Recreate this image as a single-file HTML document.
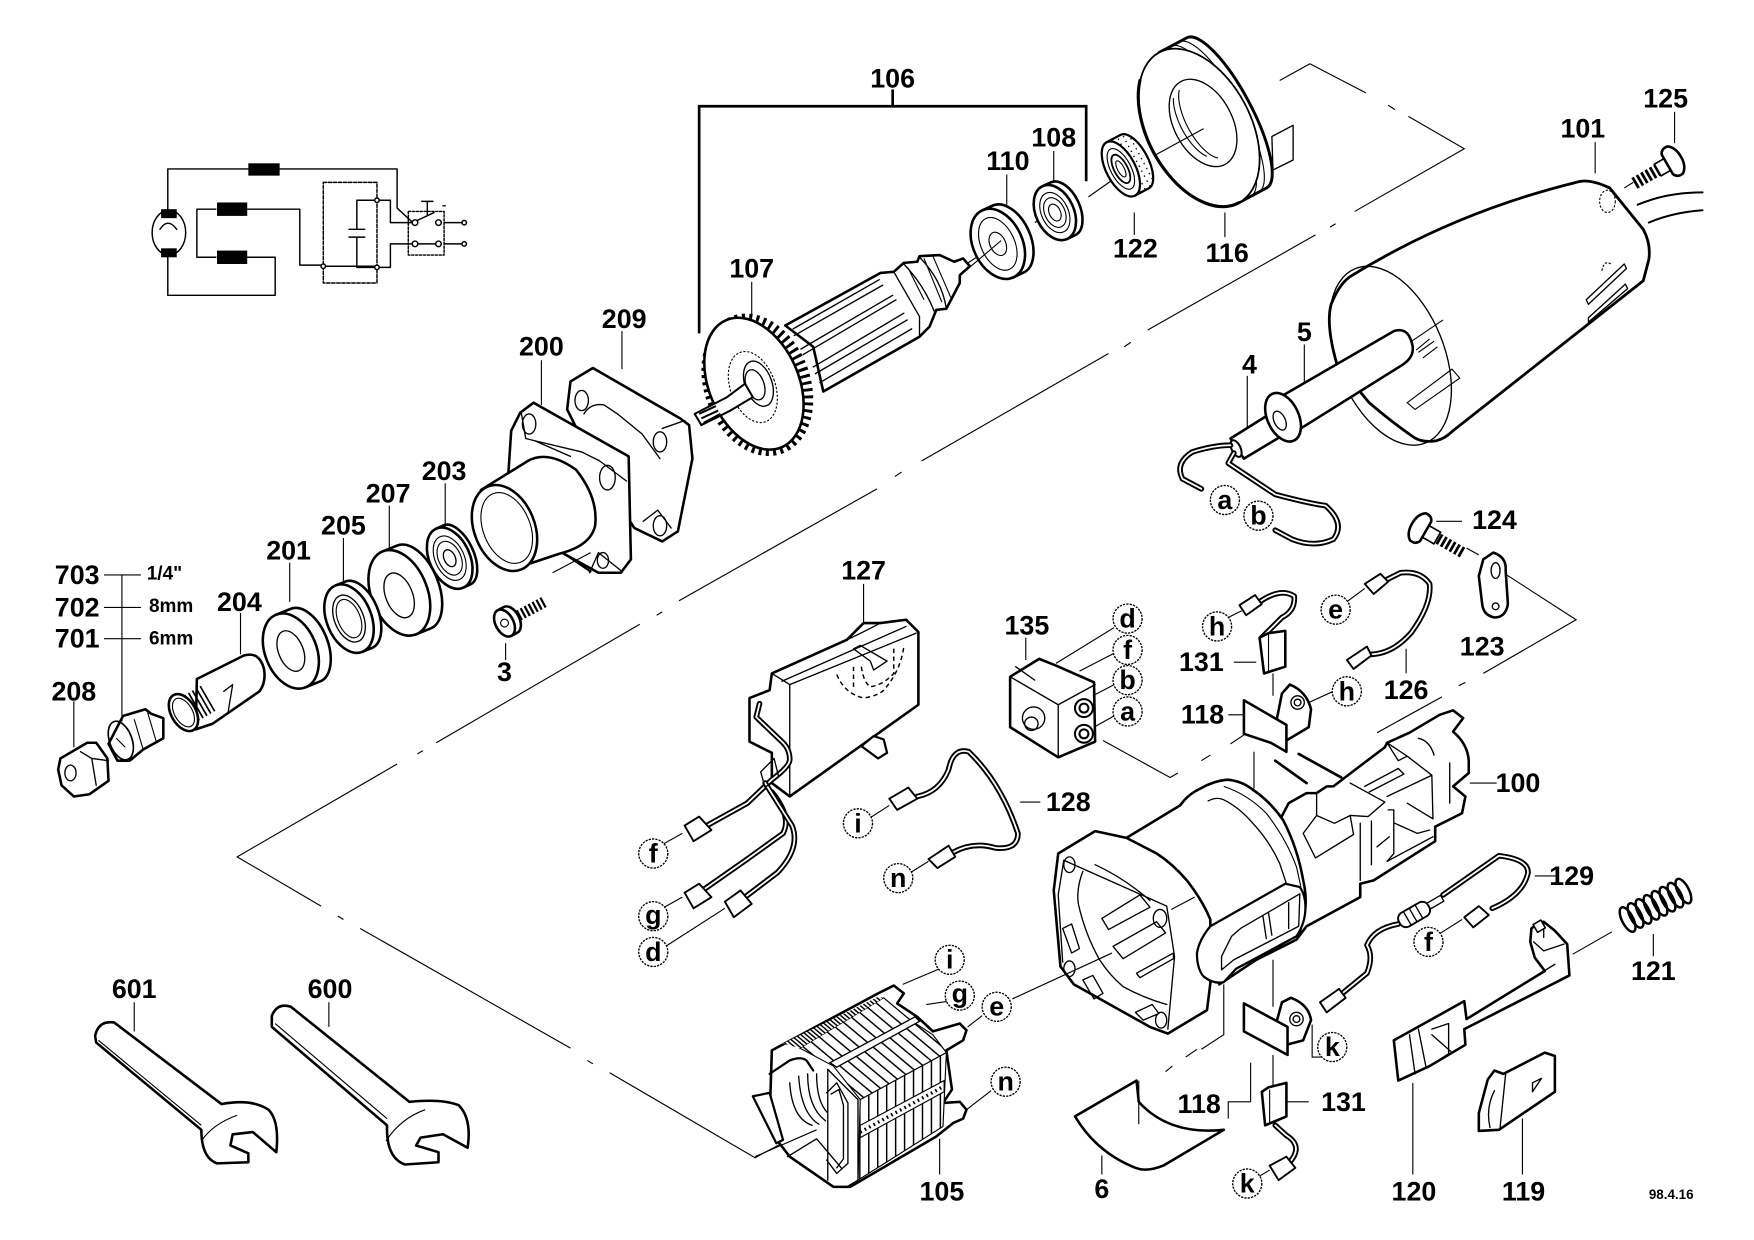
<!DOCTYPE html>
<html><head><meta charset="utf-8"><title>Parts diagram</title>
<style>
html,body{margin:0;padding:0;background:#fff;width:1754px;height:1240px;overflow:hidden}
svg{display:block}
.o{fill:#fff;stroke:#000;stroke-width:2.3;stroke-linejoin:round;stroke-linecap:round}
.m{fill:none;stroke:#000;stroke-width:1.8;stroke-linejoin:round;stroke-linecap:round}
.t{fill:none;stroke:#000;stroke-width:1}
.h{fill:none;stroke:#000;stroke-width:1.2;stroke-linejoin:round;stroke-linecap:round}
.w{fill:none;stroke:#000;stroke-width:5;stroke-linecap:round;stroke-linejoin:round}
.wi{fill:none;stroke:#fff;stroke-width:1.6;stroke-linecap:round;stroke-linejoin:round}
.d{fill:none;stroke:#000;stroke-width:1;stroke-dasharray:2 1.5}
text{font-family:"Liberation Sans",sans-serif;fill:#000;text-anchor:middle}
.l{font-size:24px;font-weight:bold}
.s{font-size:17px;font-weight:bold}
.c{fill:#fff;stroke:#000;stroke-width:1.2;stroke-dasharray:2 1}
.cl{font-size:24px;font-weight:bold}
.k{fill:#000;stroke:none}
</style></head><body>
<svg xmlns="http://www.w3.org/2000/svg" width="1754" height="1240" viewBox="0 0 1568 1108.5">
<defs>
<pattern id="fv" width="8" height="8" patternUnits="userSpaceOnUse"><rect width="8" height="8" fill="#fff"/><rect width="1.3" height="8" fill="#000"/></pattern>
<pattern id="ft" width="8" height="8" patternUnits="userSpaceOnUse" patternTransform="rotate(-50)"><rect width="8" height="8" fill="#fff"/><rect width="1.3" height="8" fill="#000"/></pattern>
<pattern id="fd" width="3" height="3" patternUnits="userSpaceOnUse" patternTransform="rotate(-50)"><rect width="3" height="3" fill="#fff"/><rect width="1.3" height="3" fill="#000"/></pattern>
<pattern id="dots" width="5" height="5" patternUnits="userSpaceOnUse"><rect width="5" height="5" fill="#fff"/><rect width="1.2" height="1.2" fill="#000"/></pattern>
</defs>

<!-- long dashed assembly lines -->
<g class="t">
<path d="M1144,72L1171,57L1221,83M1241,94L1247,98M1259,104L1309,133L1211,189M1194,200L1189,203M1176,210L1026,295M1011,306L1005,310M991,316L824,412M806,422L800,426M784,437L607,537M592,547L587,550M572,558L390,664M378,671L373,674M355,683L212,766L287,810M302,819L307,822M322,830L510,937M525,948L530,951M545,959L675,1035L725,1008"/>
<path d="M986,662L1046,695L1053,691M1074,680L1082,675M1100,665L1112,657M1161,674L1199,695M1231,655L1289,623M1304,613L1310,610M1326,602L1409,554L1333,505"/>
</g>

<!-- circuit -->
<g class="m" style="stroke-width:1.3">
<path d="M150,187V151H355V186L369,199"/>
<path d="M176,187V230H193M176,187H193M221,187H268V237H289M221,230H246V264H150V229"/>
<path d="M289,163H337V253H289Z" stroke-dasharray="3 1.5"/>
<path d="M319,205V179H337M319,212V239H337M312,205H326M312,212H326M289,238H337"/>
<path d="M337,179H349V199H369M337,239H349V218H369"/>
<path d="M365,189H397V228H365Z" stroke-dasharray="2 1.5"/>
<path d="M371,198L388,190M382,180V193M377,180H387M371,218H392M397,199H414M397,218H414M396,184h2"/>
<ellipse cx="151" cy="208" rx="15" ry="20"/>
<path d="M143,205Q150,194 158,205"/>
<circle cx="289" cy="238" r="2" fill="#fff"/><circle cx="337" cy="179" r="2" fill="#fff"/><circle cx="337" cy="239" r="2" fill="#fff"/>
<circle cx="371" cy="199" r="2.5" fill="#fff"/><circle cx="392" cy="199" r="2.5" fill="#fff"/><circle cx="371" cy="218" r="2.5" fill="#fff"/><circle cx="392" cy="218" r="2.5" fill="#fff"/>
<circle cx="415" cy="199" r="2" fill="#fff"/><circle cx="415" cy="218" r="2" fill="#fff"/>
</g>
<g class="k"><rect x="222" y="146" width="28" height="11"/><rect x="194" y="181" width="27" height="12"/><rect x="194" y="224" width="27" height="12"/><rect x="144" y="187" width="14" height="8"/><rect x="144" y="222" width="14" height="8"/></g>

<!-- bracket 106 -->
<path d="M625,298V95H971V162M798,80V95" fill="none" stroke="#000" stroke-width="2.4"/>
<!-- axis lines top -->
<g class="t"><path d="M861,238L892,217M925,199L945,186M973,176L1000,157"/></g>

<!-- 116 -->
<g transform="translate(1072,114) rotate(-28)">
<path class="o" d="M0,-76L28,-76A22,76 0 0 1 28,76L0,76Z" style="stroke-width:2.6"/>
<path class="t" d="M6,-76A22,76 0 0 1 6,76M12,-76A22,76 0 0 1 12,76M20,-76A22,76 0 0 1 20,76"/>
<ellipse class="o" rx="46" ry="76" style="stroke-width:1.6"/>
<path class="m" d="M-27,-62A46,76 0 0 0 0,76" style="stroke-width:2.8"/>
<ellipse class="h" cx="5" cy="-2" rx="26" ry="42"/>
<path class="t" d="M-8,-34A16,36 0 0 0 -6,26M0,-38A16,38 0 0 0 2,32"/>
</g>
<path class="h" d="M1137,122L1156,112V143L1138,152Z" style="fill:#fff"/>
<path class="t" d="M1032,139L1076,115"/>
<!-- 122 -->
<g transform="translate(1002,151) rotate(-28)">
<path d="M0,-27L14,-27A12,27 0 0 1 14,27L0,27Z" fill="url(#dots)" stroke="#000" stroke-width="2"/>
<ellipse rx="13" ry="27" fill="#fff" stroke="#000" stroke-width="2"/>
<ellipse class="t" rx="9" ry="20"/><ellipse class="m" rx="6" ry="14" style="stroke-width:1.6"/><ellipse class="t" rx="3" ry="8"/>
</g>
<!-- 108 -->
<g transform="translate(943,190) rotate(-25)">
<path class="o" d="M0,-26L8,-26A15,26 0 0 1 8,26L0,26Z"/>
<ellipse class="o" rx="17" ry="26"/>
<ellipse class="t" rx="12" ry="19"/><ellipse class="t" rx="9" ry="14"/><ellipse class="t" rx="5" ry="8"/>
</g>
<!-- 110 -->
<g transform="translate(892,218) rotate(-25)">
<path class="o" d="M0,-33L10,-33A20,33 0 0 1 10,33L0,33Z"/>
<ellipse class="o" rx="22" ry="33"/>
<ellipse class="t" rx="15" ry="25"/><ellipse class="t" rx="7" ry="11"/>
</g>
<path class="t" d="M868,238L895,215"/>

<!-- armature 107 -->
<g>
<path class="o" d="M702,291L787,244L799,243L808,235L820,234L822,229L840,228L853,234L861,231L867,238L858,246L858,253L846,276L837,277L831,292L822,301L736,350L727,310Z"/>
<path class="h" d="M799,243L822,283V301M808,236Q826,255 835,278M822,230Q842,250 846,276"/>
<path class="t" d="M826,231L842,270M834,229L850,266M812,240L826,268"/>
<path class="h" d="M709,294L786,250M710,300L789,255M716,312L798,264M718,317L801,268M727,328L808,280M729,334L811,286M733,342L815,294"/>
<ellipse cx="677" cy="344" rx="43" ry="61" transform="rotate(-20 677 344)" fill="none" stroke="#000" stroke-width="9" stroke-dasharray="2.6 3.6"/>
<ellipse class="o" cx="674" cy="343" rx="40" ry="62" transform="rotate(-24 674 343)"/>
<ellipse class="d" cx="673" cy="346" rx="20" ry="33" transform="rotate(-20 673 346)"/>
<ellipse class="h" cx="678" cy="343" rx="12" ry="21" transform="rotate(-20 678 343)"/>
<ellipse class="h" cx="675" cy="344" rx="8" ry="14" transform="rotate(-20 675 344)"/>
<path class="o" d="M621,370L650,355L666,343L673,355L653,367L627,380Z" style="stroke-width:1.8"/>
<path d="M625,370L640,363M627,374L642,367M629,378L644,370" stroke="#000" stroke-width="1.8"/>
</g>

<!-- 209 -->
<path class="o" d="M530,329L510,341L507,366L534,420L567,472L592,484L606,475L619,410L616,380L608,374Z"/>
<path class="h" d="M522,370Q528,360 540,362L552,370L574,388L590,410M592,383L612,376M575,466L588,456L600,472"/>
<ellipse class="h" cx="520" cy="358" rx="6" ry="9"/><ellipse class="h" cx="590" cy="395" rx="6" ry="9"/><ellipse class="h" cx="590" cy="470" rx="6" ry="9"/>
<!-- 200 -->
<path class="o" d="M477,360L465,369L457,385L453,445L495,490L535,512L555,512L564,500L562,408Z"/>
<path class="h" d="M466,369L470,392L478,394L520,404L536,412L560,430M527,512L535,494L555,510M478,394L510,408"/>
<ellipse class="h" cx="473" cy="379" rx="6" ry="9"/><ellipse class="h" cx="543" cy="427" rx="7" ry="11"/><ellipse class="h" cx="539" cy="501" rx="5" ry="7"/>
<path class="m" d="M500,492L528,511"/>
<!-- neck -->
<path class="o" d="M430,438L472,412Q490,402 515,420Q535,445 532,470Q528,488 500,495L455,510Z"/>
<ellipse class="o" cx="451" cy="472" rx="27" ry="40" transform="rotate(-22 451 472)"/>
<ellipse class="t" cx="453" cy="472" rx="21" ry="33" transform="rotate(-22 453 472)"/>
<!-- screw 3 -->
<path class="t" d="M494,512L528,494"/>
<g transform="translate(451,557) rotate(-28)">
<path d="M14,0H42" stroke="#000" stroke-width="10" stroke-dasharray="2 2" fill="none"/>
<path class="o" d="M0,-13H6A8,13 0 0 1 6,13H0Z"/>
<ellipse class="o" rx="8" ry="13"/><circle class="t" r="3.5"/>
</g>
<!-- 203 -->
<g transform="translate(402,499) rotate(-25)">
<path class="o" d="M0,-29L7,-29A15,29 0 0 1 7,29L0,29Z"/>
<ellipse class="o" rx="18" ry="29"/>
<ellipse class="t" rx="13" ry="21"/><ellipse class="t" rx="10" ry="16"/><ellipse class="h" rx="5" ry="8"/>
</g>
<!-- 207 -->
<g transform="translate(357,530) rotate(-22)">
<path class="o" d="M0,-40L14,-40A22,40 0 0 1 14,40L0,40Z"/>
<ellipse class="o" rx="25" ry="40"/><ellipse class="h" cx="-1" cy="2" rx="12" ry="21"/>
</g>
<!-- 205 -->
<g transform="translate(312,553) rotate(-22)">
<path class="o" d="M0,-32L9,-32A18,32 0 0 1 9,32L0,32Z"/>
<ellipse class="o" rx="20" ry="32"/><ellipse class="h" rx="13" ry="22"/><ellipse class="t" rx="10" ry="18"/>
</g>
<!-- 201 -->
<g transform="translate(260,582) rotate(-22)">
<path class="o" d="M0,-35L14,-35A20,35 0 0 1 14,35L0,35Z"/>
<ellipse class="o" rx="23" ry="35"/><ellipse class="h" rx="11" ry="19"/>
</g>
<!-- 204 -->
<path class="o" d="M176,607L218,586Q232,582 236,598Q238,610 232,618L190,647L175,652Z"/>
<path class="h" d="M200,618L208,612L204,636"/>
<g transform="translate(164,637) rotate(-30)">
<path d="M4,0H28" stroke="#000" stroke-width="26" stroke-dasharray="1.5 2.5" fill="none"/>
<ellipse class="o" rx="11" ry="18"/><ellipse class="t" rx="8" ry="14"/>
</g>
<!-- collet -->
<path class="o" d="M110,640L130,634L135,638L146,642L146,660L128,670L116,680L105,680L97,665Z"/>
<ellipse class="m" cx="108" cy="662" rx="10" ry="18" transform="rotate(-20 108 662)" style="stroke-width:1.5"/>
<path class="t" d="M120,643L128,670M132,637L140,664M104,660L112,668"/>
<!-- nut 208 -->
<path class="o" d="M54,678L78,664L86,664L96,678L97,698L80,710L66,712L55,702L52,688Z"/>
<path class="h" d="M72,672L82,678L86,702M82,678L97,680"/>
<ellipse class="h" cx="63" cy="691" rx="5" ry="7"/>

<!-- tree lines -->
<g class="t">
<path d="M93,514H126M93,543H126M93,571H126M109,514V645M66,627V668M215,548V585M259,503V538M307,481V520M348,452V490M398,432V472M484,322V362M556,296V330M672,252V281M900,156V183M942,135V163M1014,190V210M1095,190V212M1426,127V155M1497,100V128M1166,308V342M1115,336V385M452,575V590M772,522V558M917,570V590"/>
<path d="M120,896V922M294,896V918M1257,580V602M1263,968V1050M1361,1000V1050M1478,835V855M840,1018V1050M985,1033V1050M1372,783H1392M1314,700H1338M912,717H930M1284,466H1307M1123,592H1103M1111,639H1098M1118,985H1098V1000M1151,985H1170M1118,950V985"/>
</g>

<!-- housing 101 -->
<path class="o" d="M1209,246Q1300,190 1409,163Q1420,159 1439,168L1469,205Q1476,218 1474,232L1469,251L1299,385Q1292,392 1284,394Q1272,396 1264,391Q1245,378 1224,360L1195,325Q1185,290 1190,272Q1198,252 1209,246Z" style="stroke-width:2.5"/>
<ellipse class="h" cx="1243" cy="318" rx="48" ry="84" transform="rotate(-22 1243 318)"/>
<path class="t" d="M1266,313L1278,303M1272,320L1285,310M1258,360L1298,330L1305,338L1265,366Z"/>
<path class="h" d="M1418,268L1452,236L1454,240L1420,272ZM1420,284L1453,254L1455,258L1420,288Z"/>
<ellipse class="d" cx="1437" cy="180" rx="7" ry="10"/><path class="d" d="M1432,242Q1434,232 1440,236"/>
<!-- cable -->
<path d="M1464,183Q1490,172 1522,172M1474,199Q1495,190 1522,188" class="m"/>
<!-- screw 125 -->
<g transform="translate(1494,145) rotate(-30)">
<path d="M-38,0H-8" stroke="#000" stroke-width="11" stroke-dasharray="2.5 2" fill="none"/>
<path class="o" d="M-14,-6H0V6H-14Z" style="stroke-width:1.5"/>
<path class="o" d="M-4,-10Q-2,-15 4,-14Q10,-10 10,0Q10,10 4,14Q-2,15 -4,10Z"/>
</g>
<path class="t" d="M1452,168L1460,163"/>
<!-- tube 4/5 -->
<path class="o" d="M1146,354L1246,296Q1258,292 1262,306Q1266,318 1254,326L1158,386Z"/>
<path class="t" d="M1262,305L1290,286M1268,315L1282,305"/>
<path class="o" d="M1100,392L1140,367L1152,386L1112,410Z"/>
<ellipse class="o" cx="1147" cy="373" rx="14" ry="23" transform="rotate(-25 1147 373)"/>
<ellipse class="h" cx="1144" cy="376" rx="5" ry="9" transform="rotate(-25 1144 376)"/>
<ellipse class="m" cx="1105" cy="401" rx="4" ry="8" transform="rotate(-25 1105 401)" style="fill:#fff"/>
<!-- cords -->
<path class="w" d="M1100,398Q1085,398 1066,404Q1050,414 1057,428L1074,437"/>
<path class="wi" d="M1100,398Q1085,398 1066,404Q1050,414 1057,428L1074,437"/>
<path class="w" d="M1103,405L1098,414L1140,442Q1170,450 1185,452Q1203,468 1192,482Q1175,490 1155,482L1140,474"/>
<path class="wi" d="M1103,405L1098,414L1140,442Q1170,450 1185,452Q1203,468 1192,482Q1175,490 1155,482L1140,474"/>

<!-- 124 screw / 123 -->
<g transform="translate(1271,473) rotate(30)">
<path d="M8,0H44" stroke="#000" stroke-width="10" stroke-dasharray="2.5 2" fill="none"/>
<path class="o" d="M2,-6H16V6H2Z" style="stroke-width:1.5"/>
<path class="o" d="M4,-10Q2,-15 -4,-14Q-10,-10 -10,0Q-10,10 -4,14Q2,15 4,10Z"/>
</g>
<path class="o" d="M1326,500L1335,494Q1347,498 1346,510L1348,540Q1346,552 1336,552Q1326,550 1325,540L1322,515Z"/>
<ellipse class="h" cx="1337" cy="510" rx="4" ry="7"/><circle class="h" cx="1337" cy="542" r="3"/>
<path class="t" d="M1311,490L1322,496"/>
<!-- 126 wire -->
<path class="w" d="M1236,520L1252,512Q1270,510 1278,522Q1280,540 1262,565Q1245,585 1224,585"/>
<path class="wi" d="M1236,520L1252,512Q1270,510 1278,522Q1280,540 1262,565Q1245,585 1224,585"/>
<path class="o" d="M1220,522L1234,513L1241,520L1228,531Z" style="stroke-width:1.7"/>
<path class="o" d="M1204,590L1222,578L1226,586L1210,598Z" style="stroke-width:1.7"/>
<path class="t" d="M1204,538L1220,526"/>

<!-- 135 -->
<path class="o" d="M903,605L929,589L944,595L978,610L979,663L946,677L903,650Z"/>
<path class="h" d="M903,605L946,630L979,612M946,630V677M908,596L925,608"/>
<circle class="h" cx="924" cy="642" r="10"/><circle class="h" cx="922" cy="647" r="6"/>
<circle class="m" cx="969" cy="633" r="8"/><circle class="m" cx="969" cy="656" r="8"/><circle class="m" cx="969" cy="633" r="4"/><circle class="m" cx="969" cy="656" r="4"/>
<path class="t" d="M944,593L996,561M965,600L996,584M977,622L996,612M978,650L996,640"/>
<!-- h wire + 131 -->
<path class="w" d="M1126,538Q1145,525 1157,533Q1158,546 1146,552L1128,570"/>
<path class="wi" d="M1126,538Q1145,525 1157,533Q1158,546 1146,552L1128,570"/>
<path class="o" d="M1108,541L1122,532L1128,540L1114,550Z" style="stroke-width:1.7"/>
<path class="t" d="M1098,552L1110,546"/>
<path class="o" d="M1126,570L1134,566L1149,564V596L1130,602Z"/>
<path class="t" d="M1134,566V602M1138,602V622"/>
<!-- 118 upper -->
<path class="o" d="M1146,620L1153,612Q1168,618 1172,634L1170,650L1150,662L1140,650Z"/>
<circle class="h" cx="1160" cy="628" r="6"/><circle class="h" cx="1160" cy="628" r="3"/>
<path class="o" d="M1112,626L1150,648V672L1143,668L1136,664L1112,656Z"/>
<path class="t" d="M1170,628L1192,618"/>

<!-- body 100 rear -->
<path class="o" d="M1152,718L1168,709L1177,709L1186,703L1192,703L1205,693L1238,668L1240,664L1260,655L1287,639L1299,635L1308,642L1299,654Q1312,665 1313,680L1313,691L1299,703L1310,712L1307,727L1283,739L1283,752L1228,787L1216,790V802L1168,828L1159,840L1105,867L1100,840L1130,760Z"/>
<path class="h" d="M1207,700L1238,717L1223,730L1207,729L1193,736L1177,729V709M1177,729L1165,745L1176,767L1210,746L1207,729M1216,736V787"/>
<path class="h" d="M1240,712L1280,693L1281,732L1258,718M1296,682V718M1258,676L1280,693M1220,703L1250,687L1255,692L1224,708M1240,664L1250,680L1258,676L1240,664M1268,660Q1278,662 1282,675"/>
<path class="h" d="M1241,724H1246V763L1240,770L1281,748M1226,734V773M1231,757L1242,748M1247,736L1267,745L1278,742"/>
<path class="m" d="M1140,680L1168,700M1161,674L1199,695" style="stroke-width:2.4"/>
<path class="t" d="M1121,672V705"/>
<!-- cylinder & ring -->
<path class="o" d="M1007,749L1055,720Q1062,710 1073,705Q1085,698 1097,697Q1110,698 1120,706Q1135,716 1147,733Q1160,758 1165,787Q1168,800 1167,811L1162,834L1120,860L1090,880L1060,830Z"/>
<path class="h" d="M1080,716Q1088,712 1094,715Q1108,722 1120,736Q1135,752 1144,772L1150,790"/>
<path class="t" d="M1094,703Q1115,710 1132,727Q1150,750 1159,775L1163,793"/>
<!-- flange -->
<path class="o" d="M946,763L979,743L1007,749L1034,763Q1048,772 1061,787Q1075,805 1082,822L1082,879L1079,903L1044,924L1028,918L960,880L948,864L942,796Z"/>
<path class="h" d="M951,769L1043,810L1050,855L1044,920M951,769L946,800L950,860"/>
<path class="h" d="M979,773Q1005,785 1028,805M968,779Q962,795 964,808Q970,835 983,858Q992,872 1004,882Q1022,892 1043,898"/>
<ellipse class="h" cx="956" cy="773" rx="5" ry="7"/><ellipse class="h" cx="1037" cy="821" rx="6" ry="8"/><ellipse class="h" cx="956" cy="866" rx="5" ry="7"/><ellipse class="h" cx="1038" cy="912" rx="5" ry="7"/>
<path class="h" d="M985,821L1019,800L1028,811L991,831ZM995,846L1034,824L1042,834L1004,857ZM1016,870L1049,852V857L1019,874ZM950,830L958,826L965,848L958,852ZM968,876L977,872L986,888L978,893ZM1015,905L1030,898L1036,906L1022,912Z"/>
<path class="t" d="M905,893L994,852M1047,813L1068,802"/>
<!-- handle loop -->
<path class="o" d="M1162,793L1149,790L1082,828Q1072,840 1070,852Q1070,866 1076,873Q1085,880 1094,878L1105,866L1159,837Q1167,825 1167,811Q1167,800 1162,793Z" style="stroke-width:2"/>
<path class="h" d="M1109,830L1162,799L1161,828L1103,858L1092,867V855L1101,837ZM1129,819L1132,839M1134,816L1137,836M1152,807V830"/>
<path class="t" d="M1094,880V925L1074,938M1138,858V900"/>
<path class="t" d="M1060,945L1070,938M1042,958L1048,953"/>

<!-- 127 -->
<path class="o" d="M690,602L757,572L772,557L787,557L810,554L821,565V630L706,712L690,700V673L670,663V624L688,617Z"/>
<path class="h" d="M690,602L706,612L819,566M699,609L810,560M706,612V712M757,572Q770,566 787,557"/>
<path class="h" d="M763,580L769,577L793,591L781,599L778,591L763,580Z"/>
<path class="d" d="M748,603Q755,620 772,624Q785,622 790,617Q805,600 808,578M763,596V617M770,596Q772,610 778,614Q790,612 799,602V578" style="stroke-width:1.3;stroke-dasharray:4 3"/>
<path class="o" d="M770,667L781,658L790,661L793,673L785,678Z" style="stroke-width:2"/>
<!-- 127 wires -->
<path class="w" d="M632,738L668,718L690,697Q706,685 706,679Q706,670 700,664L676,641L679,629"/>
<path class="wi" d="M632,738L668,718L690,697Q706,685 706,679Q706,670 700,664L676,641L679,629"/>
<path class="w" d="M628,796L668,768L700,745Q708,730 690,708"/>
<path class="wi" d="M628,796L668,768L700,745Q708,730 690,708"/>
<path class="w" d="M666,802L695,780Q716,758 708,738L684,700"/>
<path class="wi" d="M666,802L695,780Q716,758 708,738L684,700"/>
<path class="h" d="M680,690L692,678L696,694L684,704Z"/>
<path class="o" d="M612,738L625,730L636,742L620,752Z" style="stroke-width:1.7"/>
<path class="o" d="M612,798L625,790L636,802L620,812Z" style="stroke-width:1.7"/>
<path class="o" d="M648,806L662,796L672,808L656,820Z" style="stroke-width:1.7"/>
<path class="t" d="M592,755L610,745M592,812L610,802M595,846L648,812"/>
<!-- 128 wire -->
<path class="w" d="M820,712Q840,708 848,688Q852,668 866,672Q895,700 910,745Q910,760 890,758Q870,752 852,762"/>
<path class="wi" d="M820,712Q840,708 848,688Q852,668 866,672Q895,700 910,745Q910,760 890,758Q870,752 852,762"/>
<path class="o" d="M795,714L812,704L820,714L802,724Z" style="stroke-width:1.7"/>
<path class="o" d="M830,768L848,756L854,766L838,776Z" style="stroke-width:1.7"/>
<path class="t" d="M778,731L795,720M814,780L830,770"/>

<!-- 129 -->
<path class="w" d="M1200,888L1222,870Q1228,855 1222,845Q1228,830 1250,826M1290,800L1340,765Q1366,768 1366,780Q1362,800 1334,812"/>
<path class="wi" d="M1200,888L1222,870Q1228,855 1222,845Q1228,830 1250,826M1290,800L1340,765Q1366,768 1366,780Q1362,800 1334,812"/>
<g transform="translate(1265,817) rotate(-30)"><rect class="o" x="-16" y="-7" width="30" height="14" rx="6" style="stroke-width:1.7"/><path d="M-8,-7V7M-2,-7V7M4,-7V7M14,-3H28V3H14Z" class="h"/></g>
<path class="o" d="M1180,896L1197,884L1203,892L1186,905Z" style="stroke-width:1.7"/>
<path class="o" d="M1309,820L1322,810L1331,818L1317,829Z" style="stroke-width:1.7"/>
<path class="t" d="M1288,834L1307,822"/>
<!-- spring 121 -->
<g transform="translate(1455,822) rotate(-27)" fill="none" stroke="#000" stroke-width="2.2">
<ellipse rx="5" ry="12"/><ellipse cx="8" rx="5" ry="12"/><ellipse cx="16" rx="5" ry="12"/><ellipse cx="24" rx="5" ry="12"/><ellipse cx="32" rx="5" ry="12"/><ellipse cx="40" rx="5" ry="12"/><ellipse cx="48" rx="5" ry="12"/><ellipse cx="56" rx="5" ry="12"/>
</g>
<path class="t" d="M1406,853L1441,833"/>
<!-- 120 -->
<path class="o" d="M1369,830L1374,826L1380,824L1390,832L1401,844L1403,872L1309,920L1310,934L1278,953L1250,966L1246,930L1309,895L1311,911L1381,868L1372,856L1368,842Z"/>
<path class="h" d="M1316,908L1390,862M1260,925L1265,960M1268,920L1275,955L1295,942L1295,915L1280,920M1280,925L1297,940M1371,842L1380,850L1398,844M1380,826V838"/>
<rect class="m" x="1372" y="824" width="8" height="8" transform="rotate(-30 1376 828)" style="stroke-width:1.4;fill:#fff"/>
<!-- 119 -->
<path class="o" d="M1381,941L1390,944V976L1340,1010L1322,1011L1322,995L1330,965L1336,957L1344,960Z"/>
<path class="h" d="M1346,960L1341,1008M1370,968L1378,964L1370,976ZM1336,975Q1328,990 1332,1008"/>
<!-- 6 -->
<path class="o" d="M961,998L1016,966L1018,985Q1045,1015 1094,1010L1040,1042Q1025,1048 1015,1044Q980,1030 961,998Z"/>
<path class="t" d="M1018,966V1005"/>
<!-- 118 lower -->
<path class="o" d="M1146,896L1154,892Q1170,898 1172,912L1165,930L1150,934L1140,918Z"/>
<circle class="h" cx="1159" cy="911" r="6"/><circle class="h" cx="1159" cy="911" r="3"/>
<path class="o" d="M1112,897L1151,918V943L1112,922Z"/>
<path class="t" d="M1173,916V945L1181,945M1138,943V972"/>
<!-- 131 lower -->
<path class="o" d="M1128,976L1134,972L1150,968V998L1131,1006Z"/>
<path class="t" d="M1135,974V1004"/>
<path class="w" d="M1140,1006L1150,1015Q1166,1025 1152,1040"/>
<path class="wi" d="M1140,1006L1150,1015Q1166,1025 1152,1040"/>
<path class="o" d="M1135,1042L1150,1034L1158,1044L1143,1055Z" style="stroke-width:1.7"/>
<path class="t" d="M1125,1052L1135,1046"/>

<!-- stator 105 -->
<path class="o" d="M690,939L785,888L799,881L808,888L802,897L820,909L834,922L858,915L864,921L861,930L846,939L851,974L843,986L858,985L864,992L861,1000L852,1004L837,1016L760,1061L745,1061L706,1034L696,1021L688,1001Z"/>
<path d="M790,892L814,912L834,925L846,941L769,983L745,953L715,937Z" fill="url(#ft)" stroke="#000" stroke-width="1"/>
<path d="M700,933L785,891L790,892L715,937Z" fill="url(#fd)"/>
<path d="M769,983L846,941L843,1007L767,1055Z" fill="url(#fv)" stroke="#000" stroke-width="1"/>
<path d="M742,950L818,909L822,913L748,954Z" fill="#fff" stroke="#000" stroke-width="1.2"/>
<path d="M769,1006L844,966V976L769,1017Z" fill="#fff" stroke="#000" stroke-width="1"/>
<path d="M769,1012L844,971" stroke="#000" stroke-width="3" stroke-dasharray="1.5 3" fill="none"/>
<path class="h" d="M740,956L767,983V1055M757,1061L767,1055"/>
<path class="h" d="M739,977L748,968L758,986V1040L748,1049L739,1037M743,978L750,974L754,988V1036L748,1044"/>
<path class="h" d="M706,968Q708,1000 726,1006M714,962Q716,995 732,1005M722,960Q722,990 738,1002M730,960Q730,985 740,995M740,956V1055"/>
<path class="m" d="M688,960L706,948Q716,944 721,948L727,957" style="stroke-width:2"/>
<path class="o" d="M673,980L688,977L700,1019L694,1022Z" style="stroke-width:2"/>
<path class="t" d="M675,1034L730,1010"/>
<path class="h" d="M704,1034L730,1018L752,1044"/>
<path class="t" d="M807,880L840,866M828,898L848,895M865,918L878,908M864,992L886,975"/>

<!-- wrenches -->
<path class="o" d="M85,926Q88,912 102,914L198,987Q225,982 240,992Q250,1002 247,1030L226,1012L208,1014L206,1024L222,1031V1039L194,1040Q180,1035 180,1010L86,932Z"/>
<path class="t" d="M88,930L180,1006M180,1020Q190,1005 212,997"/>
<path class="o" d="M243,908Q248,896 260,900L366,985Q395,982 410,988Q422,1000 418,1026L396,1014L376,1017L372,1024L392,1030V1039L362,1041Q345,1035 346,1006L243,918Z"/>
<path class="t" d="M246,915L346,1000M345,1020Q358,1000 380,992"/>

<!-- labels -->
<g class="l">
<text x="798" y="78">106</text><text x="1489" y="96">125</text><text x="1415" y="123">101</text>
<text x="901" y="152">110</text><text x="942" y="131">108</text><text x="1015" y="230">122</text><text x="1097" y="234">116</text>
<text x="672" y="248">107</text><text x="558" y="293">209</text><text x="484" y="318">200</text>
<text x="1166" y="305">5</text><text x="1117" y="334">4</text>
<text x="397" y="429">203</text><text x="347" y="449">207</text><text x="307" y="478">205</text><text x="258" y="500">201</text>
<text x="214" y="546">204</text><text x="69" y="522">703</text><text x="69" y="551">702</text><text x="69" y="579">701</text>
<text x="66" y="626">208</text><text x="451" y="609">3</text>
<text x="1336" y="473">124</text><text x="772" y="518">127</text><text x="918" y="567">135</text>
<text x="1325" y="586">123</text><text x="1074" y="600">131</text><text x="1257" y="625">126</text><text x="1075" y="647">118</text>
<text x="1357" y="708">100</text><text x="955" y="725">128</text><text x="1405" y="791">129</text><text x="1478" y="876">121</text>
<text x="120" y="892">601</text><text x="295" y="892">600</text>
<text x="1072" y="995">118</text><text x="1201" y="993">131</text>
<text x="842" y="1073">105</text><text x="985" y="1071">6</text><text x="1264" y="1073">120</text><text x="1362" y="1073">119</text>
</g>
<g class="s"><text x="147" y="518">1/4"</text><text x="153" y="547">8mm</text><text x="153" y="576">6mm</text></g>
<text x="1494" y="1072" style="font-size:12px;font-weight:bold">98.4.16</text>

<!-- circled letters -->
<g>
<circle class="c" cx="1095" cy="447" r="13"/><text class="cl" x="1095" y="455">a</text>
<circle class="c" cx="1125" cy="461" r="13"/><text class="cl" x="1125" y="469">b</text>
<circle class="c" cx="1194" cy="545" r="13"/><text class="cl" x="1194" y="553">e</text>
<circle class="c" cx="1088" cy="560" r="13"/><text class="cl" x="1088" y="568">h</text>
<circle class="c" cx="1008" cy="553" r="13"/><text class="cl" x="1008" y="561">d</text>
<circle class="c" cx="1008" cy="581" r="13"/><text class="cl" x="1008" y="589">f</text>
<circle class="c" cx="1008" cy="608" r="13"/><text class="cl" x="1008" y="616">b</text>
<circle class="c" cx="1008" cy="636" r="13"/><text class="cl" x="1008" y="644">a</text>
<circle class="c" cx="1204" cy="618" r="13"/><text class="cl" x="1204" y="626">h</text>
<circle class="c" cx="767" cy="736" r="13"/><text class="cl" x="767" y="744">i</text>
<circle class="c" cx="803" cy="785" r="13"/><text class="cl" x="803" y="793">n</text>
<circle class="c" cx="584" cy="763" r="13"/><text class="cl" x="584" y="771">f</text>
<circle class="c" cx="584" cy="819" r="13"/><text class="cl" x="584" y="826">g</text>
<circle class="c" cx="584" cy="851" r="13"/><text class="cl" x="584" y="859">d</text>
<circle class="c" cx="1277" cy="842" r="13"/><text class="cl" x="1277" y="850">f</text>
<circle class="c" cx="849" cy="858" r="13"/><text class="cl" x="849" y="866">i</text>
<circle class="c" cx="858" cy="890" r="13"/><text class="cl" x="858" y="896">g</text>
<circle class="c" cx="891" cy="900" r="13"/><text class="cl" x="891" y="908">e</text>
<circle class="c" cx="899" cy="967" r="13"/><text class="cl" x="899" y="975">n</text>
<circle class="c" cx="1191" cy="936" r="13"/><text class="cl" x="1191" y="944">k</text>
<circle class="c" cx="1115" cy="1058" r="13"/><text class="cl" x="1115" y="1066">k</text>
</g>
</svg>
</body></html>
